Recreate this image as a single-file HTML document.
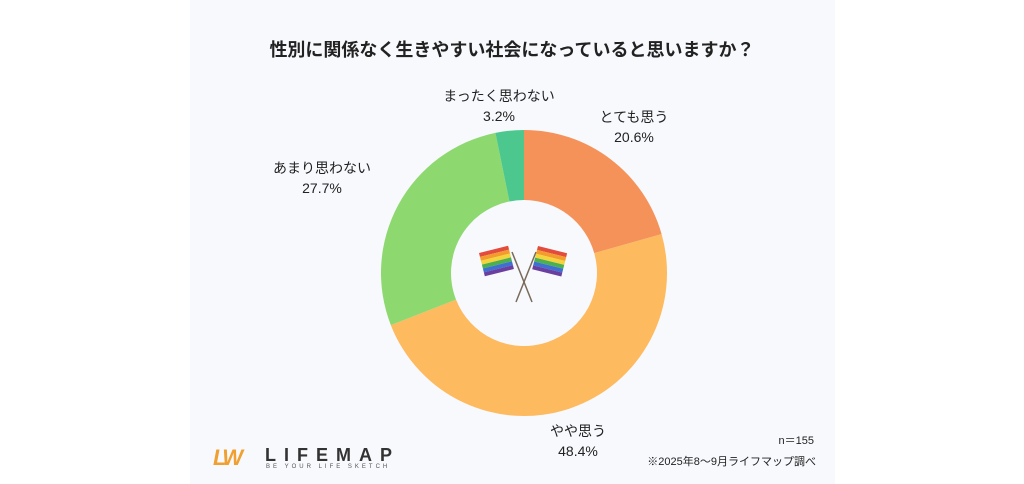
<!DOCTYPE html>
<html><head><meta charset="utf-8">
<style>
body{margin:0;width:1024px;height:484px;background:#fff;overflow:hidden;font-family:"Liberation Sans","Noto Sans CJK JP",sans-serif;}
#card{position:absolute;left:190px;top:0;width:645px;height:484px;background:#f8f9fd;}
.t{position:absolute;color:#222;white-space:nowrap;}
</style></head><body>
<div id="card"></div>
<div class="t" style="left:0;width:1024px;text-align:center;top:36px;font-size:18px;font-weight:bold;">性別に関係なく生きやすい社会になっていると思いますか？</div>
<svg width="1024" height="484" style="position:absolute;left:0;top:0">
<g id="slices"></g>
<g id="labels"></g>
<g>
<line x1="512" y1="252" x2="532" y2="302" stroke="#7a6a5a" stroke-width="1.5"/>
<line x1="536" y1="252" x2="516" y2="302" stroke="#7a6a5a" stroke-width="1.5"/>
<g transform="translate(479,253) rotate(-14)">
<rect y="0" width="30" height="4" fill="#e34b3c"/><rect y="4" width="30" height="4" fill="#f39c2d"/><rect y="8" width="30" height="4" fill="#f5d33b"/><rect y="12" width="30" height="4" fill="#4caf50"/><rect y="16" width="30" height="4" fill="#3f6fd0"/><rect y="20" width="30" height="4" fill="#6a3fa0"/></g>
<g transform="translate(538,246) rotate(14)">
<rect y="0" width="30" height="4" fill="#e34b3c"/><rect y="4" width="30" height="4" fill="#f39c2d"/><rect y="8" width="30" height="4" fill="#f5d33b"/><rect y="12" width="30" height="4" fill="#4caf50"/><rect y="16" width="30" height="4" fill="#3f6fd0"/><rect y="20" width="30" height="4" fill="#6a3fa0"/></g>
</g>
</svg>
<div style="position:absolute;left:213px;top:445px;white-space:nowrap;">
<span style="position:absolute;left:0;top:0;font-size:22px;font-weight:bold;color:#f0a030;font-style:italic;letter-spacing:-3px;">LW</span>
<span style="position:absolute;left:52px;top:0;font-size:18px;font-weight:bold;color:#333;letter-spacing:8px;white-space:nowrap;">LIFEMAP</span>
<span style="position:absolute;left:53px;top:19px;font-size:6px;color:#555;letter-spacing:3px;white-space:nowrap;">BE YOUR LIFE SKETCH</span>
</div>
<div class="t" style="right:210px;top:432px;font-size:11px;">n＝155</div>
<div class="t" style="right:208px;top:453px;font-size:11px;">※2025年8〜9月ライフマップ調べ</div>
<script>
const categories=["とても思う","やや思う","あまり思わない","まったく思わない"];
const values=[20.6,48.4,27.7,3.2];
const colors=["#f4925a","#fdba5e","#8ed870","#4cc88e"];
const cx=524,cy=273,R=143,r=73;
const ns="http://www.w3.org/2000/svg";
const total=values.reduce((a,b)=>a+b,0);
const g=document.getElementById('slices');
function pt(a,rad){return [cx+rad*Math.sin(a),cy-rad*Math.cos(a)];}
let acc=0;
values.forEach((v,i)=>{
 const a0=acc/total*2*Math.PI;acc+=v;const a1=acc/total*2*Math.PI;
 const large=(a1-a0)>Math.PI?1:0;
 const [x0,y0]=pt(a0,R),[x1,y1]=pt(a1,R),[x2,y2]=pt(a1,r),[x3,y3]=pt(a0,r);
 const p=document.createElementNS(ns,'path');
 p.setAttribute('d',`M${x0},${y0}A${R},${R} 0 ${large} 1 ${x1},${y1}L${x2},${y2}A${r},${r} 0 ${large} 0 ${x3},${y3}Z`);
 p.setAttribute('fill',colors[i]);
 
 
 g.appendChild(p);
});
const labelPos=[[634,122],[578,436],[322,173],[499,101]];
const lg=document.getElementById('labels');
values.forEach((v,i)=>{
 const t=document.createElementNS(ns,'text');
 t.setAttribute('x',labelPos[i][0]);t.setAttribute('y',labelPos[i][1]);
 t.setAttribute('text-anchor','middle');t.setAttribute('font-size','14');t.setAttribute('fill','#222');
 t.setAttribute('font-family','"Liberation Sans","Noto Sans CJK JP",sans-serif');
 
 
 t.textContent=categories[i];
 const t2=t.cloneNode(false);
 t2.setAttribute('y',labelPos[i][1]+20);
 
 
 t2.textContent=v.toFixed(1)+'%';
 lg.appendChild(t);lg.appendChild(t2);
});
</script>
</body></html>
